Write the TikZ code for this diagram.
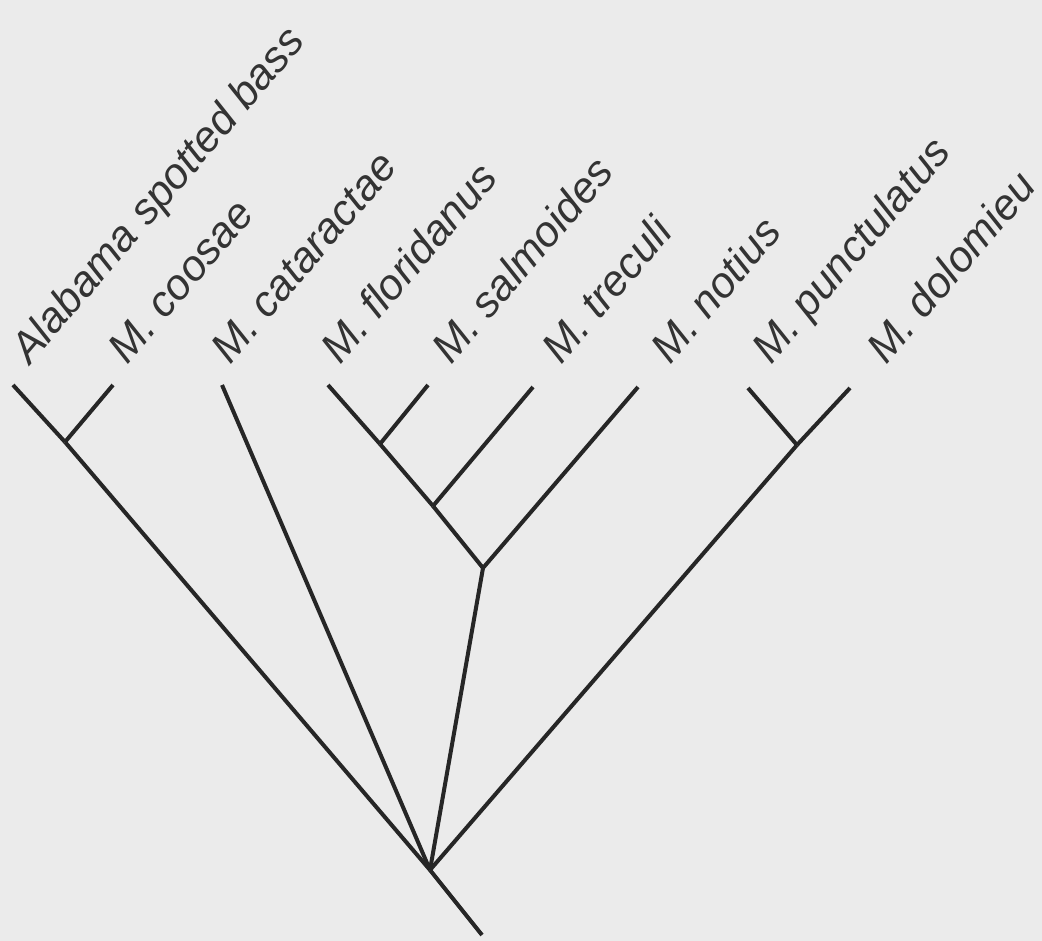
\documentclass[tikz,border=0pt]{standalone}
\usepackage{fontspec}
\setmainfont{Liberation Sans}
\begin{document}
\begin{tikzpicture}[x=1pt,y=-1pt,
  branch/.style={draw=black!85, line width=4pt},
  taxon/.style={anchor=base west, inner sep=0pt, text=black!80, rotate=49.5,
    font=\fontsize{43}{43}\selectfont\itshape}]
\fill[black!8] (0,0) rectangle (1042,941);
\useasboundingbox (0,0) rectangle (1042,941);
% tips
\coordinate (t1) at (13,385);
\coordinate (t2) at (113,385);
\coordinate (t3) at (222,385);
\coordinate (t4) at (328,385);
\coordinate (t5) at (428,385);
\coordinate (t6) at (533,387);
\coordinate (t7) at (638,387);
\coordinate (t8) at (748,388);
\coordinate (t9) at (850,388);
% internal nodes
\coordinate (nA) at (65,442);
\coordinate (nB) at (380,444);
\coordinate (nC) at (433,506);
\coordinate (nD) at (483,568);
\coordinate (nE) at (797,445);
\coordinate (root) at (430,870);
\coordinate (stem) at (482,935);
% branches
\draw[branch] (t1) -- (nA);
\draw[branch] (t2) -- (nA);
\draw[branch] (nA) -- (root);
\draw[branch] (t3) -- (root);
\draw[branch] (t4) -- (nB);
\draw[branch] (t5) -- (nB);
\draw[branch] (nB) -- (nC);
\draw[branch] (t6) -- (nC);
\draw[branch] (nC) -- (nD);
\draw[branch] (t7) -- (nD);
\draw[branch] (nD) -- (root);
\draw[branch] (t8) -- (nE);
\draw[branch] (t9) -- (nE);
\draw[branch] (nE) -- (root);
\draw[branch] (root) -- (stem);
% labels
\node[taxon] (l1) at (30,366) {Alabama spotted bass};
\node[taxon] (l2) at (127,366) {M. coosae};
\node[taxon] (l3) at (230,366) {M. cataractae};
\node[taxon] (l4) at (340,366) {M. floridanus};
\node[taxon] (l5) at (451,366) {M. salmoides};
\node[taxon] (l6) at (561,366) {M. treculi};
\node[taxon] (l7) at (670,366) {M. notius};
\node[taxon] (l8) at (771,366) {M. punctulatus};
\node[taxon] (l9) at (886,366) {M. dolomieu};
\end{tikzpicture}
\end{document}
